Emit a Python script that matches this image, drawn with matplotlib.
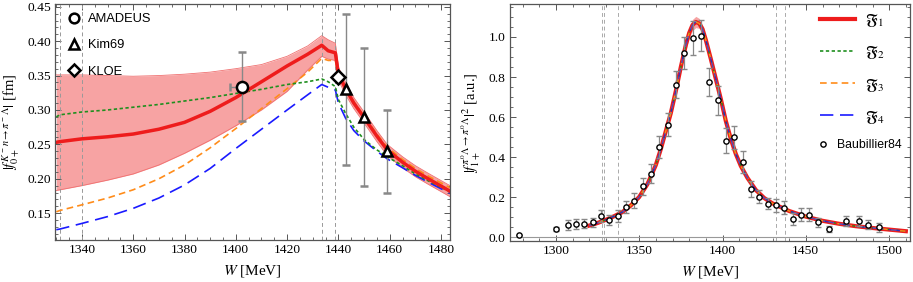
import matplotlib
matplotlib.use("Agg")
import matplotlib.pyplot as plt
from matplotlib.lines import Line2D
from matplotlib.ticker import MultipleLocator, FormatStrFormatter

plt.rcParams['mathtext.fontset'] = 'stix'
plt.rcParams['font.family'] = ['Liberation Serif', 'DejaVu Serif']

# ---------------- Left panel data ----------------
W_L = [1330, 1331.5, 1339.9, 1350, 1360, 1370, 1380, 1390, 1400, 1410, 1420, 1428,
       1433.5, 1436, 1438.8, 1440, 1442.8, 1446, 1450, 1455, 1459, 1465, 1470, 1475, 1483.5]
f1_L = [0.253, 0.254, 0.258, 0.261, 0.265, 0.272, 0.282, 0.298, 0.318, 0.341, 0.364, 0.381,
        0.394, 0.386, 0.383, 0.352, 0.331, 0.310, 0.289, 0.262, 0.242, 0.224, 0.211, 0.200, 0.182]
f1_L_up = [0.351, 0.351, 0.351, 0.350, 0.349, 0.350, 0.352, 0.355, 0.360, 0.366, 0.378, 0.393,
           0.408, 0.402, 0.397, 0.362, 0.340, 0.318, 0.297, 0.270, 0.250, 0.232, 0.219, 0.208, 0.190]
f1_L_lo = [0.183, 0.184, 0.190, 0.198, 0.207, 0.220, 0.237, 0.256, 0.277, 0.300, 0.327, 0.358,
           0.378, 0.374, 0.372, 0.343, 0.322, 0.302, 0.281, 0.254, 0.234, 0.216, 0.203, 0.192, 0.174]
f2_L = [0.290, 0.293, 0.297, 0.300, 0.304, 0.308, 0.313, 0.318, 0.324, 0.330, 0.337, 0.341,
        0.345, 0.341, 0.334, 0.315, 0.295, 0.275, 0.257, 0.242, 0.232, 0.219, 0.207, 0.197, 0.181]
f3_L = [0.152, 0.154, 0.162, 0.172, 0.184, 0.200, 0.220, 0.245, 0.273, 0.302, 0.331, 0.355,
        0.375, 0.372, 0.372, 0.350, 0.332, 0.312, 0.291, 0.265, 0.246, 0.228, 0.215, 0.204, 0.187]
f4_L = [0.126, 0.127, 0.135, 0.145, 0.157, 0.172, 0.191, 0.215, 0.244, 0.272, 0.300, 0.322,
        0.337, 0.333, 0.329, 0.310, 0.288, 0.270, 0.255, 0.240, 0.229, 0.216, 0.205, 0.195, 0.179]
thresholds_L = [1331.5, 1339.9, 1433.5, 1438.8]

amadeus_W, amadeus_f, amadeus_err = [1402.3], [0.334], [0.050]
kim_W = [1442.8, 1450.0, 1459.0]
kim_f = [0.330, 0.290, 0.240]
kim_err = [0.110, 0.100, 0.060]
kloe_W, kloe_f = [1439.9], [0.348]

# ---------------- Right panel data ----------------
W_R = [1320, 1325, 1330, 1335, 1340, 1345, 1350, 1355, 1360, 1363,
       1366, 1369, 1372, 1375, 1378, 1380, 1382, 1384, 1386, 1388,
       1390, 1393, 1396, 1399, 1402, 1405, 1408, 1411, 1415, 1420,
       1425, 1430, 1440, 1450, 1460, 1470, 1480, 1490, 1500, 1510]
f1_R = [0.057, 0.070, 0.086, 0.104, 0.125, 0.158, 0.200, 0.265, 0.360, 0.440,
        0.530, 0.620, 0.730, 0.850, 0.960, 1.020, 1.060, 1.075, 1.068, 1.040,
        0.985, 0.890, 0.790, 0.690, 0.580, 0.490, 0.415, 0.355, 0.295, 0.235,
        0.195, 0.168, 0.130, 0.102, 0.081, 0.066, 0.054, 0.045, 0.037, 0.029]
band_R = [0.006, 0.006, 0.006, 0.006, 0.007, 0.008, 0.009, 0.010, 0.011, 0.012,
          0.013, 0.014, 0.016, 0.018, 0.022, 0.025, 0.028, 0.028, 0.025, 0.020,
          0.016, 0.013, 0.011, 0.010, 0.009, 0.008, 0.008, 0.007, 0.007, 0.006,
          0.006, 0.006, 0.006, 0.005, 0.005, 0.005, 0.005, 0.005, 0.005, 0.005]
f2_R = f1_R
f3_R = f1_R
f4_R = f1_R
thresholds_R = [1327.6, 1328.9, 1337.0, 1432.0, 1437.2]

bau_W = [1278, 1300, 1307, 1312, 1317, 1322, 1327, 1332, 1337, 1342,
         1347, 1352, 1357, 1362, 1367, 1372, 1377, 1382, 1387, 1392,
         1397, 1402, 1407, 1412, 1417, 1422, 1427, 1432, 1437, 1442,
         1447, 1452, 1457, 1464, 1474, 1482, 1487, 1494]
bau_v = [0.008, 0.040, 0.062, 0.067, 0.067, 0.073, 0.103, 0.083, 0.107, 0.148,
         0.182, 0.253, 0.317, 0.450, 0.562, 0.762, 0.920, 0.995, 1.007, 0.775,
         0.683, 0.482, 0.498, 0.375, 0.240, 0.202, 0.167, 0.158, 0.147, 0.090,
         0.112, 0.112, 0.073, 0.040, 0.078, 0.078, 0.062, 0.048]
bau_e = [0.0, 0.008, 0.025, 0.025, 0.022, 0.022, 0.030, 0.025, 0.030, 0.030,
         0.037, 0.042, 0.046, 0.055, 0.058, 0.067, 0.078, 0.083, 0.078, 0.071,
         0.071, 0.062, 0.058, 0.054, 0.038, 0.033, 0.029, 0.033, 0.032, 0.029,
         0.033, 0.033, 0.022, 0.015, 0.025, 0.025, 0.023, 0.021]

RED = '#ee1c1c'
GREEN = '#1f8f1f'
ORANGE = '#ff8c1a'
BLUE = '#1a1aff'
FRAME = '#555555'

fig = plt.figure(figsize=(9.13, 2.82), dpi=100)
axL = fig.add_axes([55/913, 1-240/282, 395/913, 236/282])
axR = fig.add_axes([510/913, 1-241/282, 400/913, 237/282])

def style(ax):
    for s in ax.spines.values():
        s.set_color(FRAME)
        s.set_linewidth(0.9)
    ax.tick_params(which='both', direction='in', top=True, right=True,
                   color=FRAME, labelsize=9.7, pad=3)
    ax.tick_params(which='major', length=4, width=0.7)
    ax.tick_params(which='minor', length=2, width=0.6)

# ---------- Left ----------
axL.fill_between(W_L, f1_L_lo, f1_L_up, color='#f7a3a3', lw=0)
axL.plot(W_L, f1_L_up, color='#f07070', lw=0.6)
axL.plot(W_L, f1_L_lo, color='#f07070', lw=0.6)
for t in thresholds_L:
    axL.axvline(t, color='#999999', lw=0.7, ls=(0, (4, 3)))
axL.plot(W_L, f3_L, color=ORANGE, lw=1.2, ls=(0, (4, 2.5)))
axL.plot(W_L, f4_L, color=BLUE, lw=1.2, ls=(0, (8, 4)))
axL.plot(W_L, f2_L, color=GREEN, lw=1.2, ls=(0, (2, 1.5)))
axL.plot(W_L, f1_L, color=RED, lw=2.5)

ebkw = dict(ecolor='#888888', elinewidth=1.0, capsize=3, capthick=1.0, ls='none')
mk = dict(mfc='white', mec='black', mew=1.8)
axL.errorbar(amadeus_W, amadeus_f, yerr=amadeus_err, xerr=[[4.5], [0]], fmt='o', ms=8,
             zorder=6, **ebkw, **mk)
axL.errorbar(kim_W, kim_f, yerr=kim_err, fmt='^', ms=7, zorder=6, **ebkw, **mk)
axL.plot(kloe_W, kloe_f, 'D', ms=7, ls='none', zorder=7, **mk)

axL.set_xlim(1329.5, 1483.5)
axL.set_ylim(0.111, 0.454)
axL.xaxis.set_major_locator(MultipleLocator(20))
axL.xaxis.set_minor_locator(MultipleLocator(5))
axL.yaxis.set_major_locator(MultipleLocator(0.05))
axL.yaxis.set_minor_locator(MultipleLocator(0.01))
axL.yaxis.set_major_formatter(FormatStrFormatter('%.2f'))
style(axL)
axL.set_xlabel(r'$W$ [MeV]', fontsize=11, labelpad=5)
axL.set_ylabel(r'$|f_{0+}^{K^-n\to\pi^-\Lambda}|$ [fm]', fontsize=10.5, labelpad=4)

hL = [Line2D([], [], marker='o', ms=7, ls='none', **mk),
      Line2D([], [], marker='^', ms=7, ls='none', **mk),
      Line2D([], [], marker='D', ms=6.5, ls='none', **mk)]
legL = axL.legend(hL, ['AMADEUS', 'Kim69', 'KLOE'], loc='upper left', frameon=False,
                  prop={'family': 'Liberation Sans', 'size': 9.3}, labelspacing=1.1,
                  handlelength=1.0, handletextpad=0.55, borderaxespad=0.3,
                  bbox_to_anchor=(0.01, 1.0))

# ---------- Right ----------
lo_R = [a - b for a, b in zip(f1_R, band_R)]
up_R = [a + b for a, b in zip(f1_R, band_R)]
axR.axhline(0, color='#999999', lw=0.8)
for t in thresholds_R:
    axR.axvline(t, color='#aaaaaa', lw=0.7, ls=(0, (4, 3)))
axR.fill_between(W_R, lo_R, up_R, color='#f7a3a3', lw=0)
axR.plot(W_R, f1_R, color=RED, lw=3.0)
axR.plot(W_R, f2_R, color=GREEN, lw=1.0, ls=(0, (2, 1.5)))
axR.plot(W_R, f3_R, color=ORANGE, lw=1.0, ls=(0, (4, 2.5)))
axR.plot(W_R, f4_R, color=BLUE, lw=1.0, ls=(0, (8, 4)), alpha=0.7)
axR.errorbar(bau_W, bau_v, yerr=bau_e, fmt='o', ms=3.8, mfc='white', mec='black', mew=1.0,
             ecolor='#888888', elinewidth=0.9, capsize=2.5, capthick=0.9, zorder=6)

axR.set_xlim(1272.5, 1512.5)
axR.set_ylim(-0.02, 1.165)
axR.xaxis.set_major_locator(MultipleLocator(50))
axR.xaxis.set_minor_locator(MultipleLocator(10))
axR.yaxis.set_major_locator(MultipleLocator(0.2))
axR.yaxis.set_minor_locator(MultipleLocator(0.05))
axR.yaxis.set_major_formatter(FormatStrFormatter('%.1f'))
style(axR)
axR.set_xlabel(r'$W$ [MeV]', fontsize=11, labelpad=5)
axR.set_ylabel(r'$|f_{1+}^{\pi^0\Lambda\to\pi^0\Lambda}|^2$ [a.u.]', fontsize=10.5, labelpad=4)

hR = [Line2D([], [], color=RED, lw=3.0),
      Line2D([], [], color=GREEN, lw=1.2, ls=(0, (2, 1.5))),
      Line2D([], [], color=ORANGE, lw=1.2, ls=(0, (4, 2.5))),
      Line2D([], [], color=BLUE, lw=1.2, ls=(0, (8, 4)))]
labR = [r'$\mathfrak{F}_1$', r'$\mathfrak{F}_2$', r'$\mathfrak{F}_3$', r'$\mathfrak{F}_4$']
legR = axR.legend(hR, labR, loc='upper left', frameon=False,
                  prop={'size': 11.5}, labelspacing=0.95,
                  handlelength=2.2, handletextpad=0.6, borderaxespad=0.0, borderpad=0.0,
                  bbox_to_anchor=(0.775, 0.965))
axR.add_artist(legR)
hB = [Line2D([], [], marker='o', ms=3.8, mfc='white', mec='black', mew=1.0, ls='none')]
axR.legend(hB, ['Baubillier84'], loc='center left', frameon=False,
           prop={'family': 'Liberation Sans', 'size': 8.8},
           handlelength=0.5, handletextpad=0.9, borderaxespad=0.0, borderpad=0.0,
           bbox_to_anchor=(0.775, 0.405))

fig.savefig('out.png', dpi=100)
